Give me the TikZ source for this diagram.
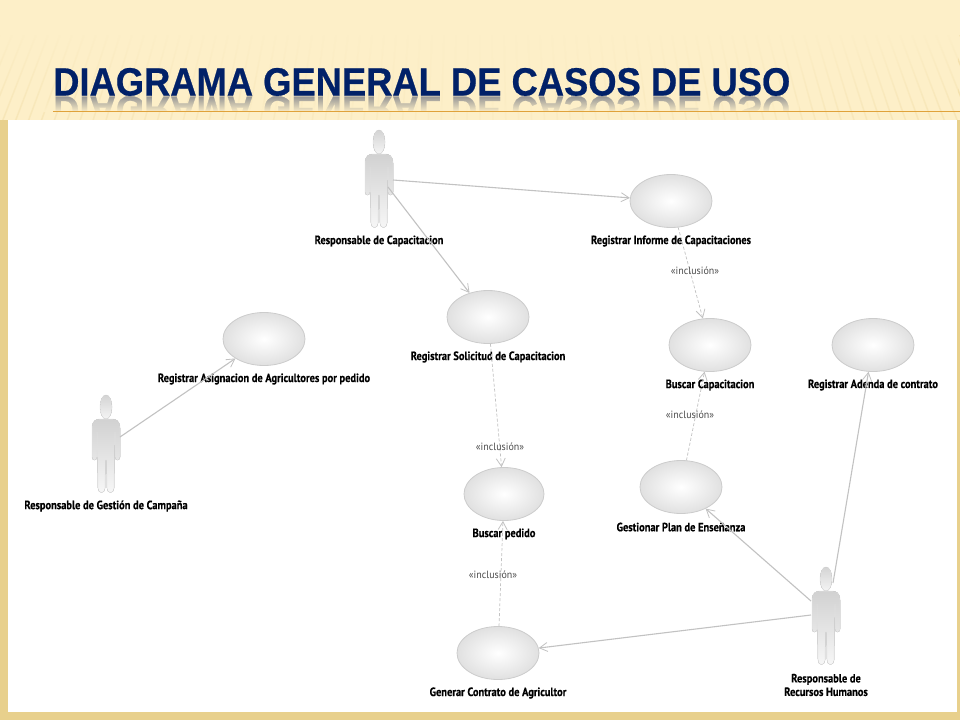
\documentclass[tikz,border=0pt]{standalone}
\usepackage{fontspec}
\setmainfont{PT Sans}[BoldFeatures={FakeBold=0.3}]
\newfontfamily\titlefont{Liberation Sans}[BoldFeatures={FakeBold=0.6}]
\usetikzlibrary{arrows.meta,fadings,shadings,shapes.geometric}
\definecolor{bgcream}{HTML}{FDEFC8}
\definecolor{stripe}{HTML}{F0DAA0}
\definecolor{gold}{HTML}{E8D08C}
\definecolor{navy}{HTML}{012168}
\definecolor{ruleor}{HTML}{E0A23A}
\definecolor{conn}{HTML}{C2C2C2}
\definecolor{elledge}{HTML}{CCCCCC}
\newcommand{\lt}[1]{\scalebox{.87}[1]{#1}}
\newcommand{\inc}{\scalebox{.95}[1]{«inclusión»}}
\tikzset{
  x=1pt,y=-1pt,
  case/.style={ellipse,draw=elledge,line width=.8pt,minimum width=82pt,minimum height=53pt,inner sep=0pt,inner color=white,outer color=black!12},
  lbl/.style={font=\bfseries\fontsize{12}{13.5}\selectfont,text=black,align=center,inner sep=0pt},
  incl/.style={font=\fontsize{10.5}{12}\selectfont,text=black!70,inner sep=0pt},
  assoc/.style={draw=conn,line width=1.1pt,-{Straight Barb[length=8pt,width=9pt,line width=.8pt]}},
  dep/.style={draw=conn,line width=.7pt,dash pattern=on 3pt off 2pt,-{Straight Barb[length=8pt,width=9pt,line width=.8pt]}},
  actorbox/.style={minimum width=30pt,minimum height=98pt,inner sep=0pt},
  actorpart/.style={draw=black!12,line width=.5pt,top color=black!18,bottom color=black!3},
}
\newcommand{\actorat}[3]{%
  \node[actorbox] (#1) at (#2,#3) {};
  \begin{scope}[shift={(#2,#3)}]
    \filldraw[actorpart,top color=black!17,bottom color=black!4] (0,-37) ellipse (6pt and 12pt);
    \filldraw[actorpart] (-14,-16) .. controls (-14,-23) and (-10,-25) .. (-6,-25) -- (6,-25)
      .. controls (10,-25) and (14,-23) .. (14,-16) -- (14,13)
      .. controls (14,17) and (9,17) .. (9,13) -- (9,-12) -- (8.5,14) -- (8,44)
      .. controls (8,50) and (1,50) .. (1,44) -- (.5,16) -- (-.5,16) -- (-1,44)
      .. controls (-1,50) and (-8,50) .. (-8,44) -- (-8.5,14) -- (-9,-12) -- (-9,13)
      .. controls (-9,17) and (-14,17) .. (-14,13) -- cycle;
  \end{scope}}
\begin{document}
\begin{tikzpicture}
\useasboundingbox (0,0) rectangle (960,720);
% background
\fill[bgcream] (0,0) rectangle (960,720);
\begin{scope}
  \clip (0,35) rectangle (960,720);
  \foreach \i in {-60,...,60}{
    \pgfmathsetmacro{\op}{.15+.8*abs(\i)/60}
    \draw[stripe,line width=1.5pt,opacity=\op] (480+\i*1.1,-1000) -- (480+\i*13,130);
  }
\end{scope}
\fill[bgcream,path fading=south] (0,28) rectangle (960,170);
\fill[gold] (0,712) rectangle (960,720);
\fill[gold] (957,120) rectangle (960,720);
\fill[gold] (0,120) rectangle (8,712);
% title reflection
\begin{scope}
  \clip (0,96) rectangle (960,111);
  \node[anchor=base west,inner sep=0pt,text=black!42,yscale=-1] at (53,96.5)
    {\titlefont\bfseries\resizebox{737pt}{27.5pt}{DIAGRAMA GENERAL DE CASOS DE USO}};
\end{scope}
\fill[bgcream,path fading=north] (40,96) rectangle (800,112);
\node[anchor=base west,inner sep=0pt,text=navy] (title) at (53,95.5)
  {\titlefont\bfseries\resizebox{737pt}{27.5pt}{DIAGRAMA GENERAL DE CASOS DE USO}};
\fill[ruleor] (53,110.6) rectangle (960,111.4);
% panel
\fill[white] (8,120) rectangle (957,712);
% use cases
\node[case] (informe) at (671,201) {};
\node[case] (solicitud) at (488,317) {};
\node[case] (asignacion) at (264,339) {};
\node[case] (buscarcap) at (710,345) {};
\node[case] (adenda) at (873,345) {};
\node[case] (plan) at (681,487) {};
\node[case,minimum width=80pt] (pedido) at (504,494) {};
\node[case] (contrato) at (498,653) {};
% actors
\actorat{cap}{379}{179}
\actorat{gestion}{106}{444}
\actorat{rrhh}{826}{616}
\coordinate (capR) at (393,180);
\coordinate (capD) at (388,187);
\coordinate (gesR) at (120,437);
\coordinate (rrA) at (833,583);
\coordinate (rrB) at (811,601);
\coordinate (rrC) at (811,615);
% labels
\node[lbl] (lcap) at (379,241) {\lt{Responsable de Capacitacion}};
\node[lbl] (lges) at (106,506) {\lt{Responsable de Gestión de Campaña}};
\node[lbl] (lrr) at (826,685) {\lt{Responsable de}\\\lt{Recursos Humanos}};
\node[lbl] (linf) at (671,241) {\lt{Registrar Informe de Capacitaciones}};
\node[lbl] (lsol) at (488,357) {\lt{Registrar Solicitud de Capacitacion}};
\node[lbl] (lasi) at (264,379) {\lt{Registrar Asignacion de Agricultores por pedido}};
\node[lbl] (lbc) at (710,385) {\lt{Buscar Capacitacion}};
\node[lbl] (lad) at (873,385) {\lt{Registrar Adenda de contrato}};
\node[lbl] (lpl) at (681,527) {\lt{Gestionar Plan de Enseñanza}};
\node[lbl] (lpe) at (504,534) {\lt{Buscar pedido}};
\node[lbl] (lct) at (498,693) {\lt{Generar Contrato de Agricultor}};
% connectors
\draw[assoc] (capR) -- (informe);
\draw[assoc] (capD) -- (solicitud);
\draw[assoc] (gesR) -- (asignacion);
\draw[assoc] (rrA) -- (adenda);
\draw[assoc] (rrB) -- (plan);
\draw[assoc] (rrC) -- (contrato);
\draw[dep] (informe) -- (buscarcap);
\draw[dep] (solicitud) -- (pedido);
\draw[dep] (contrato) -- (pedido);
\draw[dep] (plan) -- (buscarcap);
% inclusion labels
\node[incl] (i1) at (695,270.5) {\inc};
\node[incl] (i2) at (690,414.5) {\inc};
\node[incl] (i3) at (500,446.5) {\inc};
\node[incl] (i4) at (493,574.5) {\inc};
\end{tikzpicture}
\end{document}
